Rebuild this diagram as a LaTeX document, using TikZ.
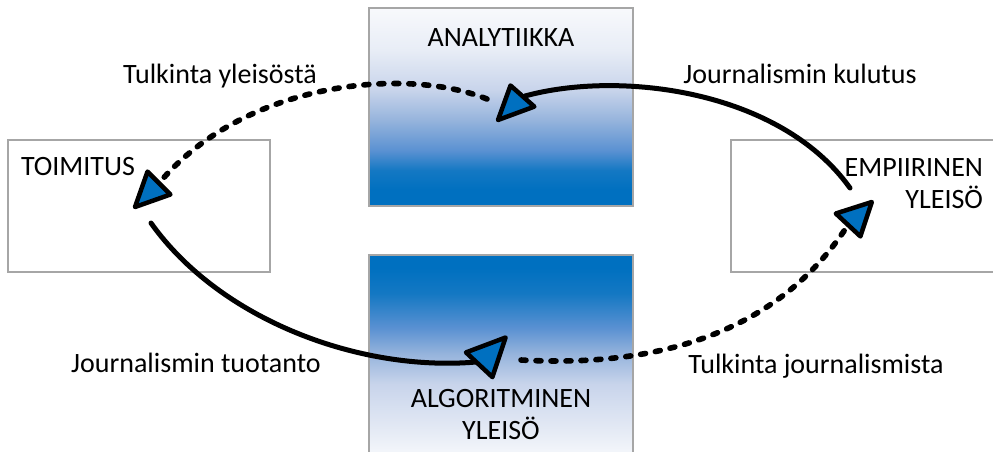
\documentclass[tikz,border=0pt]{standalone}
\usepackage{fontspec}
\setmainfont{Carlito}
\definecolor{myblue}{RGB}{0,112,192}
\definecolor{sb1}{RGB}{20,120,195}
\definecolor{sb2}{RGB}{90,145,210}
\definecolor{sb3}{RGB}{150,180,220}
\definecolor{sb4}{RGB}{200,212,235}
\definecolor{sb5}{RGB}{232,237,246}
\definecolor{sb6}{RGB}{248,249,252}
\pgfdeclareverticalshading{anashade}{100bp}{color(0bp)=(myblue); color(29bp)=(myblue); color(34bp)=(sb1); color(39bp)=(sb2); color(46.7bp)=(sb3); color(54.3bp)=(sb4); color(64.4bp)=(sb5); color(75bp)=(sb6); color(100bp)=(sb6)}
\pgfdeclareverticalshading{algshade}{100bp}{color(0bp)=(white); color(25bp)=(white); color(33bp)=(sb5); color(45bp)=(sb4); color(52bp)=(sb3); color(58bp)=(sb2); color(66bp)=(sb1); color(72bp)=(myblue); color(100bp)=(myblue)}
\begin{document}
\begin{tikzpicture}[x=1pt,y=-1pt,
  every node/.style={font=\fontsize{28}{32}\selectfont, inner sep=0pt, outer sep=0pt},
  framebox/.style={draw=black!35, line width=1.2pt, anchor=north west},
  whitebox/.style={framebox, fill=white},
  fadedown/.style={framebox, shading=anashade},
  fadeup/.style={framebox, shading=algshade},
  conn/.style={line width=5pt, line cap=round},
  dashconn/.style={conn, line width=5.6pt, dash pattern=on 5pt off 10pt},
  head/.style={draw=black, line width=4.5pt, line join=round, fill=myblue}]
\useasboundingbox (0,0) rectangle (993,451);
\clip (0,0) rectangle (993,451);

% boxes
\node[fadedown, minimum width=264pt, minimum height=198pt] (ana) at (369,8) {};
\node[fadeup, minimum width=264pt, minimum height=215pt] (alg) at (369,255) {};
\node[whitebox, minimum width=262pt, minimum height=132pt] (toim) at (8,140) {};
\node[whitebox, minimum width=290pt, minimum height=132pt] (emp) at (731,140) {};

% box texts (base = baseline of the last line)
\node[anchor=base] (anat) at (501,46) {ANALYTIIKKA};
\node[anchor=base west] (toimt) at (21,175) {TOIMITUS};
\node[anchor=base east, align=right] (empt) at (983,208) {EMPIIRINEN\\YLEISÖ};
\node[anchor=base, align=center] (algt) at (501,439) {ALGORITMINEN\\YLEISÖ};

% connector labels
\node[anchor=base] (l1) at (220,83) {Tulkinta yleisöstä};
\node[anchor=base] (l2) at (800,83) {Journalismin kulutus};
\node[anchor=base] (l3) at (196,372) {Journalismin tuotanto};
\node[anchor=base] (l4) at (816,373) {Tulkinta journalismista};

% connector end points
\coordinate (c1s) at (487,99);  \coordinate (c1e) at (160,182);
\coordinate (c2s) at (850,188); \coordinate (c2e) at (525,96);
\coordinate (c3s) at (151,223); \coordinate (c3e) at (476,362);
\coordinate (c4s) at (521,360); \coordinate (c4e) at (846,228);

% connectors
\draw[dashconn] (c1s) .. controls (405,66) and (245,82) .. (c1e);
\draw[conn] (c2s) .. controls (780,90) and (620,70) .. (c2e);
\draw[conn] (c3s) .. controls (220,320) and (360,372) .. (c3e);
\draw[dashconn] (c4s) .. controls (700,370) and (795,305) .. (c4e);

% arrow heads
\draw[head] (135,207) -- (147.5,171.6) -- (170.4,194.5) -- cycle;
\draw[head] (498,120) -- (510.5,85.5) -- (534.3,106.6) -- cycle;
\draw[head] (871.8,202) -- (835.8,213.5) -- (860.4,236.4) -- cycle;
\draw[head] (505.6,337.5) -- (466,352.4) -- (492.4,377.1) -- cycle;
\end{tikzpicture}
\end{document}
